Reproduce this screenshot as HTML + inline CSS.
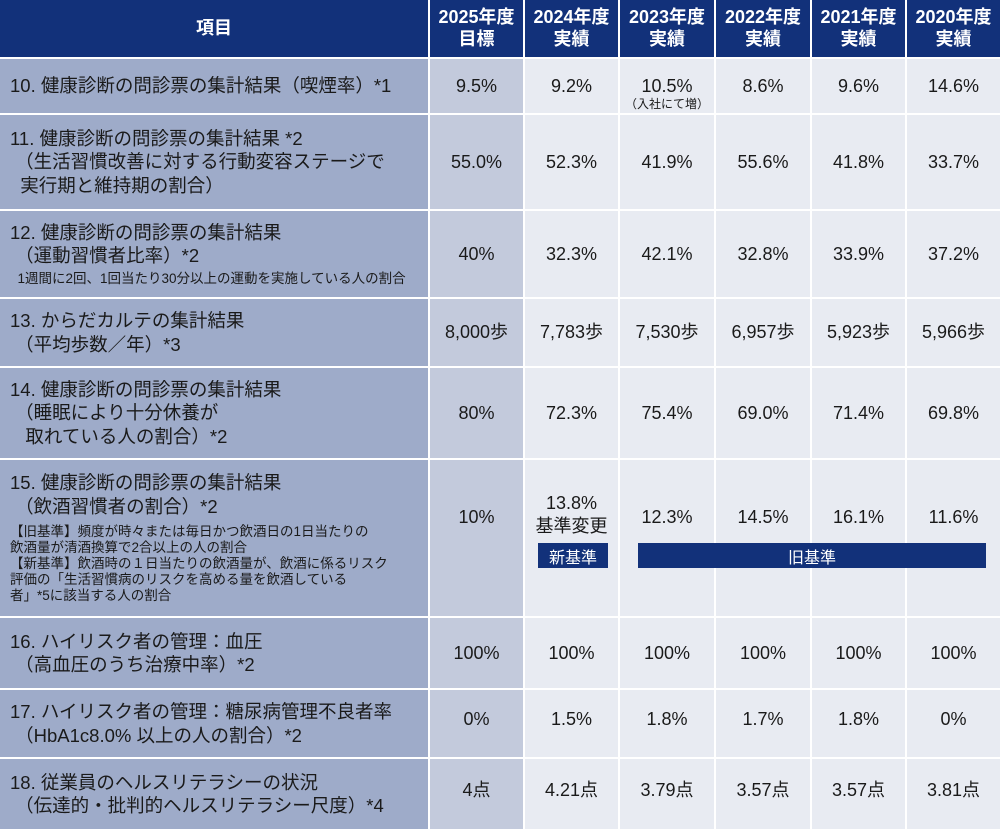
<!DOCTYPE html>
<html><head><meta charset="utf-8"><style>
body{margin:0;width:1000px;height:829px;background:#fff;overflow:hidden;font-family:"Liberation Sans","Noto Sans CJK JP",sans-serif;}
.c{position:absolute;box-sizing:border-box;display:flex;align-items:center;justify-content:center;text-align:center;font-size:18px;color:#1a1a1a;line-height:1.25}
.h{background:#12317a;color:#fff;font-weight:bold;font-size:18px;line-height:1.2}
.f{background:#9eabc9;justify-content:flex-start;text-align:left;padding-left:10px;font-size:18.5px;white-space:nowrap}
.t{background:#c3cadc}
.v{background:#e8ebf2}
.s{font-size:13.5px;line-height:1.2}
.b{position:absolute;background:#12317a;color:#fff;font-size:16px;display:flex;align-items:center;justify-content:center}
</style></head><body>
<div id="g"></div>
<script>
const X=[0,428,523,618,714,810,905,1000];
const Y=[0,57,113,209,297,366,458,616,688,757,829];
const g=document.getElementById('g');
function cell(ci,ri,cls,html){const d=document.createElement('div');d.className='c '+cls;
d.style.left=(X[ci]+(ci?2:0))+'px';d.style.top=(Y[ri]+(ri?2:0))+'px';
d.style.width=(X[ci+1]-X[ci]-(ci?2:0))+'px';d.style.height=(Y[ri+1]-Y[ri]-(ri?2:0))+'px';d.innerHTML=html;g.appendChild(d);return d;}
const hd=['項目','2025年度<br>目標','2024年度<br>実績','2023年度<br>実績','2022年度<br>実績','2021年度<br>実績','2020年度<br>実績'];
hd.forEach((t,i)=>cell(i,0,'h',t));
const rows=[
['10. 健康診断の問診票の集計結果（喫煙率）*1',['9.5%','9.2%','10.5%<div class="s" style="margin-bottom:-14px;font-size:12px">（入社にて増）</div>','8.6%','9.6%','14.6%']],
['11. 健康診断の問診票の集計結果 *2<br>&nbsp;（生活習慣改善に対する行動変容ステージで<br>&nbsp;&nbsp;実行期と維持期の割合）',['55.0%','52.3%','41.9%','55.6%','41.8%','33.7%']],
['<div>12. 健康診断の問診票の集計結果<br>&nbsp;（運動習慣者比率）*2<div class="s" style="margin-top:4px">&nbsp;&nbsp;1週間に2回、1回当たり30分以上の運動を実施している人の割合</div></div>',['40%','32.3%','42.1%','32.8%','33.9%','37.2%']],
['13. からだカルテの集計結果<br>&nbsp;（平均歩数／年）*3',['8,000歩','7,783歩','7,530歩','6,957歩','5,923歩','5,966歩']],
['14. 健康診断の問診票の集計結果<br>&nbsp;（睡眠により十分休養が<br>&nbsp;&nbsp;&nbsp;取れている人の割合）*2',['80%','72.3%','75.4%','69.0%','71.4%','69.8%']],
['<div>15. 健康診断の問診票の集計結果<br>&nbsp;（飲酒習慣者の割合）*2<div class="s" style="margin-top:6px">【旧基準】頻度が時々または毎日かつ飲酒日の1日当たりの<br>飲酒量が清酒換算で2合以上の人の割合<br>【新基準】飲酒時の１日当たりの飲酒量が、飲酒に係るリスク<br>評価の「生活習慣病のリスクを高める量を飲酒している<br>者」*5に該当する人の割合</div></div>',['10%','13.8%<br>基準変更','12.3%','14.5%','16.1%','11.6%']],
['16. ハイリスク者の管理：血圧<br>&nbsp;（高血圧のうち治療中率）*2',['100%','100%','100%','100%','100%','100%']],
['17. ハイリスク者の管理：糖尿病管理不良者率<br>&nbsp;（HbA1c8.0% 以上の人の割合）*2',['0%','1.5%','1.8%','1.7%','1.8%','0%']],
['18. 従業員のヘルスリテラシーの状況<br>&nbsp;（伝達的・批判的ヘルスリテラシー尺度）*4',['4点','4.21点','3.79点','3.57点','3.57点','3.81点']]
];
rows.forEach((r,i)=>{const ri=i+1;cell(0,ri,'f',r[0]);
r[1].forEach((v,j)=>{const d=cell(j+1,ri,j==0?'t':'v',v);
if(ri==6){d.style.alignItems='flex-start';d.style.paddingTop=(j==1?32:46)+'px';}
if(ri==8||ri==9){d.style.paddingBottom='8px';}
if(ri==1&&j==2){d.style.flexDirection='column';}
});});
</script>
<div class="b" style="left:538px;top:543px;width:70px;height:25px">新基準</div>
<div class="b" style="left:638px;top:543px;width:348px;height:25px">旧基準</div>
</body></html>
